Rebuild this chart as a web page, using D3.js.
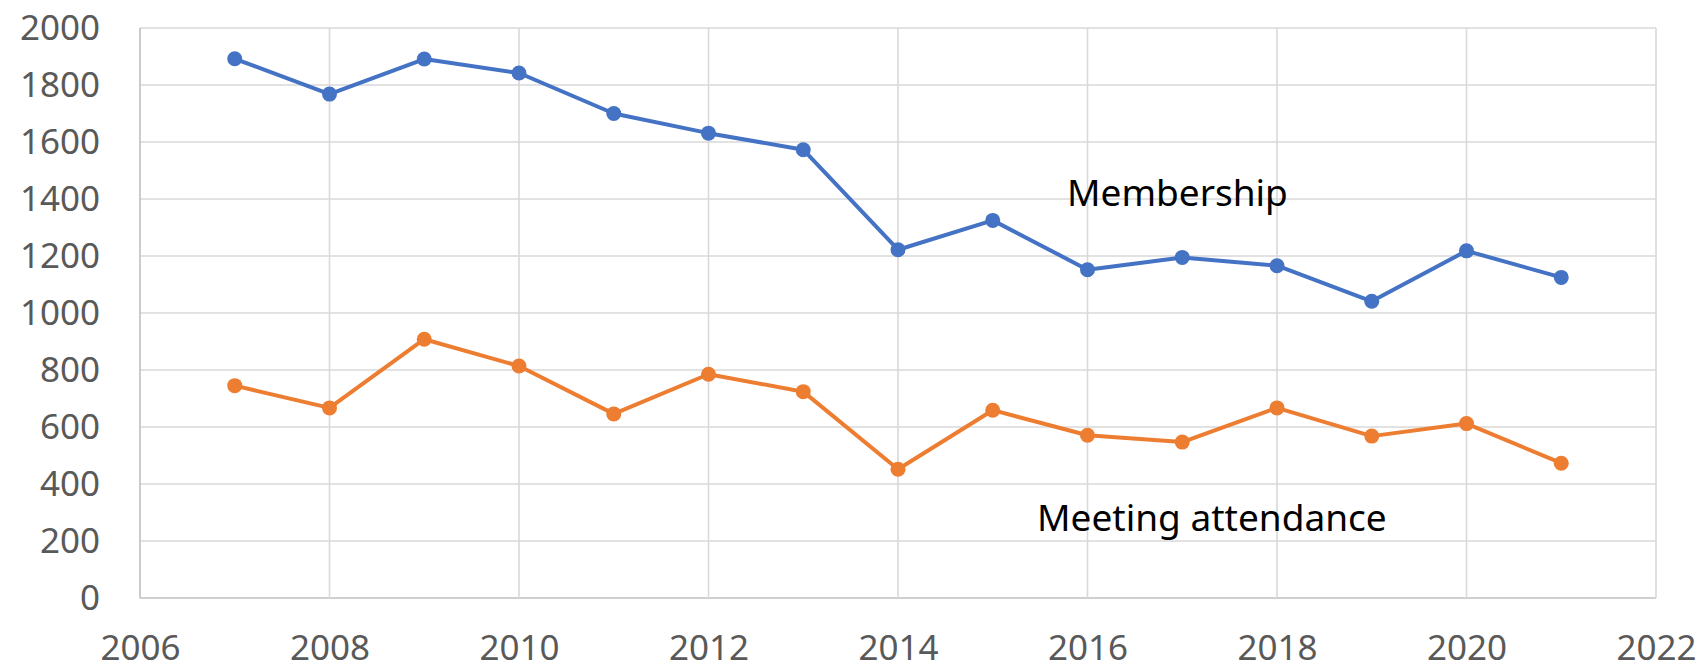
<!DOCTYPE html>
<html>
<head>
<meta charset="utf-8">
<script src="https://cdn.jsdelivr.net/npm/d3@7"></script>
<style>
  body { margin: 0; background: #fff; }
  text { font-family: "Noto Sans", sans-serif; }
</style>
</head>
<body>
<div id="chart"></div>
<script>
// membership and meeting attendance by year

var years = [2007, 2008, 2009, 2010, 2011, 2012, 2013, 2014, 2015, 2016, 2017, 2018, 2019, 2020, 2021];
var membership = [1892, 1768, 1891, 1842, 1700, 1631, 1573, 1222, 1325, 1152, 1195, 1166, 1041, 1218, 1125];
var attendance = [745, 667, 908, 814, 646, 785, 724, 452, 659, 571, 547, 667, 568, 612, 473];
var xTicks = [2006, 2008, 2010, 2012, 2014, 2016, 2018, 2020, 2022];
var yTicks = [0, 200, 400, 600, 800, 1000, 1200, 1400, 1600, 1800, 2000];

var width = 1706;
var height = 672;
var margin = {top: 28, right: 50, bottom: 74, left: 140};

var svg = d3.select("#chart")
	.append("svg")
		.attr("width", width)
		.attr("height", height);

var x = d3.scaleLinear()
	.domain([2006, 2022])
	.range([margin.left, width - margin.right]);

var y = d3.scaleLinear()
	.domain([0, 2000])
	.range([height - margin.bottom, margin.top]);

// gridlines
svg.append("g")
	.selectAll("line.h")
	.data(yTicks)
	.enter().append("line")
		.attr("x1", x(2006))
		.attr("x2", x(2022))
		.attr("y1", function(d) { return y(d); })
		.attr("y2", function(d) { return y(d); })
		.attr("stroke", function(d) { return d === 0 ? "#BFBFBF" : "#D9D9D9"; })
		.attr("stroke-width", 1.6);

svg.append("g")
	.selectAll("line.v")
	.data(xTicks)
	.enter().append("line")
		.attr("x1", function(d) { return x(d); })
		.attr("x2", function(d) { return x(d); })
		.attr("y1", y(0))
		.attr("y2", y(2000))
		.attr("stroke", function(d) { return d === 2006 ? "#BFBFBF" : "#D9D9D9"; })
		.attr("stroke-width", 1.6);

// axes (labels only)
var xAxis = svg.append("g")
	.attr("transform", "translate(0," + y(0) + ")")
	.call(d3.axisBottom(x).tickValues(xTicks).tickFormat(d3.format("d")).tickSize(0));
xAxis.select(".domain").remove();
xAxis.selectAll("text")
	.attr("y", 37)
	.attr("fill", "#595959")
	.style("font-size", "35px")
	.style("font-family", "Noto Sans");

var yAxis = svg.append("g")
	.attr("transform", "translate(" + x(2006) + ",0)")
	.call(d3.axisLeft(y).tickValues(yTicks).tickFormat(d3.format("d")).tickSize(0).tickPadding(40));
yAxis.select(".domain").remove();
yAxis.selectAll("text")
	.attr("fill", "#595959")
	.style("font-size", "35px")
	.style("font-family", "Noto Sans");

// series
var series = [
	{name: "Membership", values: membership, color: "#4472C4", lx: 1067, ly: 206},
	{name: "Meeting attendance", values: attendance, color: "#ED7D31", lx: 1037, ly: 531}
];

var line = d3.line()
	.x(function(d, i) { return x(years[i]); })
	.y(function(d) { return y(d); });

series.forEach(function(s) {
	svg.append("path")
		.datum(s.values)
		.attr("fill", "none")
		.attr("stroke", s.color)
		.attr("stroke-width", 4)
		.attr("stroke-linejoin", "round")
		.attr("d", line);

	svg.append("g")
		.selectAll("circle")
		.data(s.values)
		.enter().append("circle")
			.attr("cx", function(d, i) { return x(years[i]); })
			.attr("cy", function(d) { return y(d); })
			.attr("r", 7.5)
			.attr("fill", s.color);

	svg.append("text")
		.attr("x", s.lx)
		.attr("y", s.ly)
		.attr("fill", "#000")
		.style("font-size", "37px")
		.text(s.name);
});
</script>
</body>
</html>
